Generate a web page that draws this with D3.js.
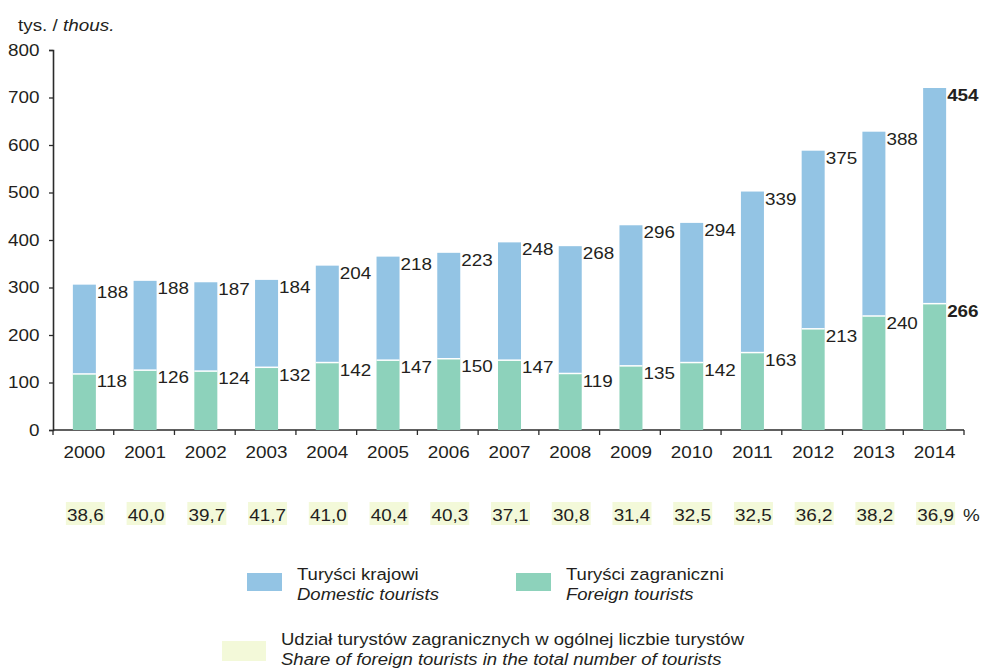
<!DOCTYPE html>
<html>
<head>
<meta charset="utf-8">
<script src="https://cdn.jsdelivr.net/npm/d3@7"></script>
<style>
  html, body { margin: 0; padding: 0; background: #fff; }
  svg text { font-family: "Liberation Sans", Arial, Helvetica, sans-serif; fill: #231f20; }
</style>
</head>
<body>
<svg id="chart" width="982" height="670"></svg>
<script>
// Tourists accommodated, thousands
const years = ["2000","2001","2002","2003","2004","2005","2006","2007","2008","2009","2010","2011","2012","2013","2014"];
const foreign = [118,126,124,132,142,147,150,147,119,135,142,163,213,240,266];
const domestic = [188,188,187,184,204,218,223,248,268,296,294,339,375,388,454];
const sharePct = [38.6,40.0,39.7,41.7,41.0,40.4,40.3,37.1,30.8,31.4,32.5,32.5,36.2,38.2,36.9];
const yTicks = [0,100,200,300,400,500,600,700,800];

const colDomestic = "#93c4e4";
const colForeign = "#8dd2bb";
const colShare = "#f3f9d9";
const axisCol = "#2b2b2b";
const FS = 17;      // font size
const SX = 1.11;    // horizontal widening of the typeface

const svg = d3.select("#chart");
const plotL = 53, plotR = 964, plotT = 50, plotB = 430;

// one band per year, bars placed within each band
const x = d3.scaleBand().domain(years).range([plotL, plotR]).paddingInner(0).paddingOuter(0);
const y = d3.scaleLinear().domain([0, 800]).range([plotB, plotT]);
const bandCenter = yr => x(yr) + x.bandwidth() / 2;

// text helper: widened glyphs anchored at (px, py)
function label(parent, px, py, str, opts = {}) {
  const t = parent.append("text")
    .attr("transform", `translate(${px},${py}) scale(${opts.sx || SX},1)`)
    .attr("font-size", opts.size || FS)
    .attr("text-anchor", opts.anchor || "start");
  if (opts.weight) t.attr("font-weight", opts.weight);
  if (opts.italic) t.attr("font-style", "italic");
  t.text(str);
  return t;
}

// y axis
const yAxis = d3.axisLeft(y).tickValues(yTicks).tickSize(4).tickSizeOuter(4).tickPadding(8);
const gy = svg.append("g").attr("transform", `translate(${plotL},0)`).call(yAxis);
gy.select(".domain").attr("stroke", axisCol).attr("stroke-width", 1.6);
gy.selectAll(".tick line").attr("stroke", axisCol).attr("stroke-width", 1.3);
gy.selectAll(".tick text")
  .attr("font-size", FS)
  .attr("x", -13.5 / SX)
  .attr("transform", `scale(${SX},1)`)
  .style("font-family", '"Liberation Sans", Arial, sans-serif')
  .attr("fill", "#231f20");

// x axis: ticks at band boundaries
const xAxisG = svg.append("g");
xAxisG.append("line").attr("x1", plotL).attr("x2", plotR).attr("y1", plotB).attr("y2", plotB)
  .attr("stroke", axisCol).attr("stroke-width", 1.6);
const boundaries = years.map(yr => x(yr)).concat([plotR]);
xAxisG.selectAll(".xt").data(boundaries).join("line")
  .attr("x1", d => d).attr("x2", d => d).attr("y1", plotB).attr("y2", plotB + 5)
  .attr("stroke", axisCol).attr("stroke-width", 1.3);
years.forEach(yr => label(xAxisG, bandCenter(yr) + 1, 457.5, yr, { anchor: "middle" }));

// unit label
const unit = svg.append("text")
  .attr("transform", `translate(18,31) scale(${SX},1)`).attr("font-size", FS);
unit.append("tspan").text("tys. / ");
unit.append("tspan").attr("font-style", "italic").text("thous.");

// stacked bars
const barW = 23;
const bx = yr => bandCenter(yr) - barW / 2 + 1;
const g = svg.append("g");
years.forEach((yr, i) => {
  const f = foreign[i], d = domestic[i];
  g.append("rect").attr("x", bx(yr)).attr("width", barW)
    .attr("y", y(f)).attr("height", y(0) - y(f))
    .attr("fill", colForeign);
  g.append("rect").attr("x", bx(yr)).attr("width", barW)
    .attr("y", y(f + d)).attr("height", y(f) - y(f + d))
    .attr("fill", colDomestic);
  g.append("line").attr("x1", bx(yr)).attr("x2", bx(yr) + barW)
    .attr("y1", y(f)).attr("y2", y(f)).attr("stroke", "#fff").attr("stroke-width", 1.5);
  const last = i === years.length - 1;
  const w = last ? "bold" : null;
  label(g, bx(yr) + barW + 1, y(f + d) + 13, d, { weight: w });
  label(g, bx(yr) + barW + 1, y(f) + 13.3, f, { weight: w });
});

// share of foreign tourists row
const fmt = v => d3.format(".1f")(v).replace(".", ",");
const shareG = svg.append("g");
years.forEach((yr, i) => {
  const cx = bandCenter(yr) + 2;
  shareG.append("rect").attr("x", cx - 19.5).attr("y", 502).attr("width", 39).attr("height", 23).attr("fill", colShare);
  label(shareG, cx, 520.5, fmt(sharePct[i]), { anchor: "middle" });
});
label(svg, 963, 520.5, "%");

// legend
const legend = [
  { c: colDomestic, x: 247, y: 573, w: 35, h: 18, tx: 297, ty: 580, t1: "Turyści krajowi", t2: "Domestic tourists" },
  { c: colForeign, x: 516, y: 573, w: 35, h: 18, tx: 566, ty: 580, t1: "Turyści zagraniczni", t2: "Foreign tourists" },
  { c: colShare, x: 222, y: 641, w: 44, h: 20, tx: 281, ty: 645, t1: "Udział turystów zagranicznych w ogólnej liczbie turystów", t2: "Share of foreign tourists in the total number of tourists" }
];
const lg = svg.append("g");
legend.forEach(l => {
  lg.append("rect").attr("x", l.x).attr("y", l.y).attr("width", l.w).attr("height", l.h).attr("fill", l.c);
  label(lg, l.tx, l.ty, l.t1, { sx: 1.09 });
  label(lg, l.tx, l.ty + 19.5, l.t2, { italic: true, sx: 1.09 });
});
</script>
</body>
</html>
